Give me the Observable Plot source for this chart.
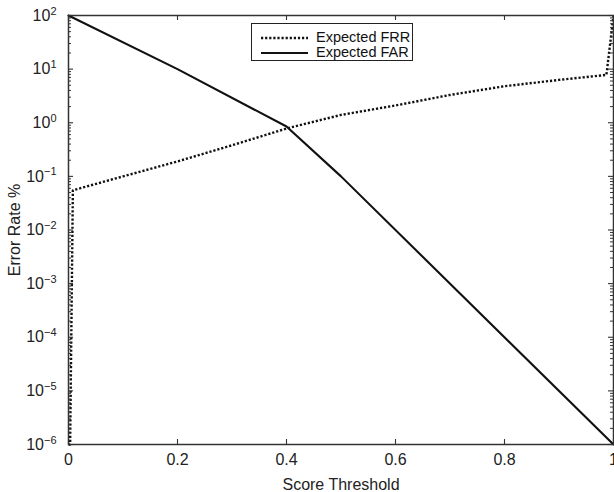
<!DOCTYPE html>
<html><head><meta charset="utf-8">
<script src="https://cdn.jsdelivr.net/npm/d3@7"></script>
<script src="https://cdn.jsdelivr.net/npm/@observablehq/plot@0.6"></script>
<style>
html,body{margin:0;padding:0;background:#fff;}
body{font-family:"Liberation Sans",Arial,Helvetica,sans-serif;}
#wrap{position:relative;width:614px;height:492px;overflow:hidden;}
#legend{position:absolute;left:251px;top:23px;width:162px;height:38px;border:1.3px solid #222;background:#fff;box-sizing:border-box;font-size:14.5px;color:#111;}
.row{position:absolute;left:0;height:15px;line-height:15px;display:flex;align-items:center;white-space:nowrap;}
.row svg{margin-left:9px;margin-right:8px;}
</style></head><body>
<div id="wrap"></div>
<script>
// ---- data ----
const seriesNames = ["Expected FRR", "Expected FAR"];
const frrScore = [0, 0.003, 0.008, 0.1, 0.2, 0.3, 0.4, 0.5, 0.6, 0.7, 0.8, 0.9, 0.987, 1.0];
const frrValue = [1e-6, 1e-6, 0.055, 0.1, 0.19, 0.38, 0.78, 1.4, 2.1, 3.3, 4.8, 6.3, 7.8, 100];
const farScore = [0, 0.2, 0.4, 0.5, 1.0];
const farValue = [100, 10, 0.85, 0.1, 1e-6];
const xTicks = [0, 0.2, 0.4, 0.6, 0.8, 1];
const xTickLabels = ["0", "0.2", "0.4", "0.6", "0.8", "1"];
const yTicks = [1e-6, 1e-5, 1e-4, 1e-3, 1e-2, 1e-1, 1e0, 1e1, 1e2];
const yExponents = ["−6", "−5", "−4", "−3", "−2", "−1", "0", "1", "2"];
const xLabel = "Score Threshold";
const yLabel = "Error Rate %";

const frr = frrScore.map((s, i) => ({score: s, value: frrValue[i]}));
const far = farScore.map((s, i) => ({score: s, value: farValue[i]}));
// minor log ticks (2..9 × 10^k)
const yMinor = [];
for (let k = -6; k < 2; k++) for (let m = 2; m <= 9; m++) yMinor.push(m * Math.pow(10, k));

const W = 614, H = 492, ML = 68, MR = 1, MT = 15, MB = 48;
const frameW = W - ML - MR, frameH = H - MT - MB;
const major = 5, minor = 3;
const axisColor = "#333";
const dotted = "2.2,1.9";
const plot = Plot.plot({
  width: W,
  height: H,
  marginLeft: ML,
  marginRight: MR,
  marginTop: MT,
  marginBottom: MB,
  style: {fontFamily: "'Liberation Sans', Arial, sans-serif", fontSize: "16px", color: "#222", background: "#fff"},
  x: {domain: [0, 1]},
  y: {type: "log", domain: [1e-6, 1e2]},
  marks: [
    // tick labels and axis titles
    Plot.axisX({anchor: "bottom", ticks: xTicks, tickSize: 0, tickPadding: 9,
      tickFormat: d => xTickLabels[xTicks.indexOf(d)], label: xLabel, labelAnchor: "center", labelArrow: "none", labelOffset: 45}),
    Plot.axisY({anchor: "left", ticks: yTicks, tickSize: 0, tickPadding: 12,
      tickFormat: d => "10^" + yExponents[yTicks.indexOf(d)], label: yLabel, labelAnchor: "center", labelArrow: "none", labelOffset: 60}),
    // data
    Plot.line(frr, {x: "score", y: "value", stroke: "#111", strokeWidth: 2.4, strokeDasharray: dotted, strokeLinecap: "butt"}),
    Plot.line(far, {x: "score", y: "value", stroke: "#111", strokeWidth: 2.1}),
    // inward tick marks on all four sides
    Plot.tickX(xTicks, {x: d => d, stroke: axisColor, strokeWidth: 1.1, insetTop: frameH - major}),
    Plot.tickX(xTicks, {x: d => d, stroke: axisColor, strokeWidth: 1.1, insetBottom: frameH - major}),
    Plot.tickY(yTicks, {y: d => d, stroke: axisColor, strokeWidth: 1.1, insetRight: frameW - major}),
    Plot.tickY(yTicks, {y: d => d, stroke: axisColor, strokeWidth: 1.1, insetLeft: frameW - major}),
    Plot.tickY(yMinor, {y: d => d, stroke: axisColor, strokeWidth: 1, insetRight: frameW - minor}),
    Plot.tickY(yMinor, {y: d => d, stroke: axisColor, strokeWidth: 1, insetLeft: frameW - minor}),
    Plot.frame({stroke: axisColor, strokeWidth: 1.5})
  ]
});

// render exponents as real superscript text
d3.select(plot).selectAll("text").each(function() {
  const t = this.textContent;
  if (t && t.startsWith("10^")) {
    const exp = t.slice(3);
    const sel = d3.select(this);
    sel.text("10");
    sel.append("tspan").attr("dy", "-0.55em").attr("font-size", "11px").text(exp);
  }
});

const wrap = document.getElementById("wrap");
wrap.appendChild(plot);

// legend
const legend = document.createElement("div");
legend.id = "legend";
const rows = [
  {name: seriesNames[0], dash: dotted, w: 2.4, top: 6},
  {name: seriesNames[1], dash: null, w: 2.1, top: 21}
];
for (const r of rows) {
  const row = document.createElement("div");
  row.className = "row";
  row.style.top = r.top + "px";
  const svg = d3.create("svg").attr("width", 47).attr("height", 6);
  svg.append("line").attr("x1", 0).attr("x2", 47).attr("y1", 3).attr("y2", 3)
    .attr("stroke", "#111").attr("stroke-width", r.w).attr("stroke-dasharray", r.dash);
  row.appendChild(svg.node());
  const span = document.createElement("span");
  span.textContent = r.name;
  row.appendChild(span);
  legend.appendChild(row);
}
wrap.appendChild(legend);
</script>
</body></html>
